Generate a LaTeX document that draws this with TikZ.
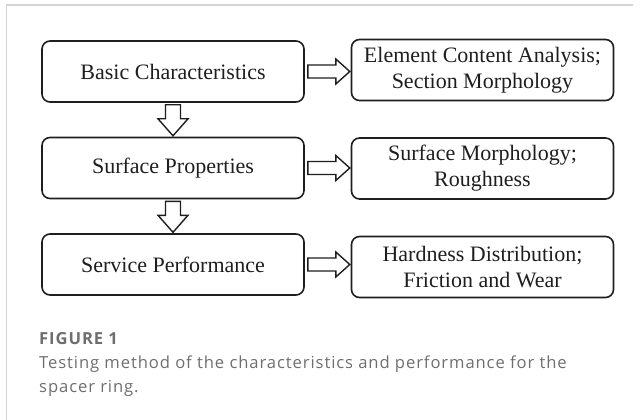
\documentclass[tikz,border=0pt]{standalone}
\usepackage{fontspec}
\setmainfont{Liberation Serif}
\newfontfamily\capfont[LetterSpace=5.5]{Open Sans}
\usetikzlibrary{calc}
\definecolor{ink}{HTML}{1E1E1E}
\definecolor{capgray}{HTML}{6E6E6E}
\definecolor{framegray}{HTML}{D4D4D4}
\tikzset{
  stagebox/.style={draw=ink, line width=1.6pt, rounded corners=8pt,
    minimum width=262pt, minimum height=61pt, inner sep=0pt,
    align=center, font=\fontsize{22}{26}\selectfont, text=ink},
  blockarrow/.style={draw=ink, line width=1.4pt, fill=white, line join=miter},
  captext/.style={anchor=base west, inner sep=0pt, text=capgray,
    font=\capfont\fontsize{16.6}{20}\selectfont}
}
\begin{document}
\begin{tikzpicture}[x=1pt, y=-1pt]
\useasboundingbox (0,0) rectangle (641,420);
% frame on the top and left edges
\draw[framegray, line width=1.3pt] (6.5,421) -- (6.5,5) -- (633,5);

% stages on the left
\node[stagebox] (basic)   at (173,71.5)  {Basic Characteristics};
\node[stagebox] (surface) at (173,168)   {Surface Properties};
\node[stagebox] (service) at (173,264.5) {Service Performance};

% analyses on the right
\node[stagebox] (element) at (482.5,70)    {Element Content Analysis;\\Section Morphology};
\node[stagebox] (rough)   at (482.5,168.5) {Surface Morphology;\\Roughness};
\node[stagebox] (hard)    at (482.5,267)   {Hardness Distribution;\\Friction and Wear};

% hollow arrows pointing right
\foreach \src in {basic, surface, service}{
  \draw[blockarrow] ($(\src.east)+(3,-6.5)$) -- ++(28,0) -- ++(0,-6) -- ++(14,12.5)
    -- ++(-14,12.5) -- ++(0,-6) -- ++(-28,0) -- cycle;
}
% hollow arrows pointing down
\foreach \src in {basic, surface}{
  \draw[blockarrow] ($(\src.south)+(-7.5,2)$) -- ++(0,14) -- ++(-7.5,0) -- ++(15,17)
    -- ++(15,-17) -- ++(-7.5,0) -- ++(0,-14) -- cycle;
}

% caption
\node[captext, font=\capfont\bfseries\fontsize{16.6}{20}\selectfont] (fig) at (39,344) {FIGURE 1};
\node[captext] (cap1) at (39,368) {Testing method of the characteristics and performance for the};
\node[captext] (cap2) at (39,392) {spacer ring.};
\end{tikzpicture}
\end{document}
